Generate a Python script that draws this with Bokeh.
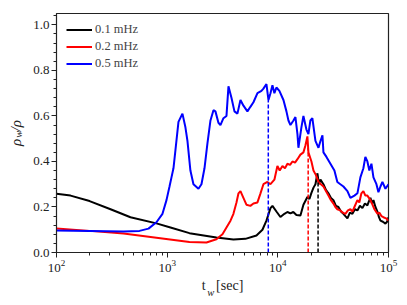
from bokeh.plotting import figure
from bokeh.models import (Range1d, SingleIntervalTicker, FixedTicker, LinearAxis,
                          Legend, LegendItem, PrintfTickFormatter)
from bokeh.embed import file_html
from bokeh.resources import INLINE

# ---- data ----
t_01 = [100, 134, 199, 308, 466, 800, 1071, 1590, 2786, 3970, 5095, 6410, 7260, 7890,
        8580, 8940, 9710, 10550, 11470, 12200, 13000, 13800, 14720, 16000, 17030, 18500,
        19300, 20120, 21000, 21870, 22800, 23500, 24270, 25830, 27200, 28660, 30200, 31800,
        33500, 35270, 37200, 39140, 40800, 42540, 44800, 47200, 49700, 52370, 55200, 58100,
        61200, 64440, 66500, 68660, 70900, 73100, 76200, 79400, 82000, 84600, 89000, 93800,
        97000, 100000]
rho_01 = [0.258, 0.250, 0.226, 0.190, 0.155, 0.128, 0.110, 0.085, 0.066, 0.057, 0.060, 0.075,
          0.100, 0.140, 0.195, 0.205, 0.180, 0.156, 0.170, 0.178, 0.172, 0.178, 0.165, 0.163,
          0.210, 0.244, 0.235, 0.262, 0.285, 0.300, 0.348, 0.300, 0.320, 0.300, 0.275, 0.260,
          0.240, 0.230, 0.205, 0.200, 0.180, 0.170, 0.160, 0.150, 0.175, 0.170, 0.190, 0.185,
          0.205, 0.195, 0.215, 0.207, 0.225, 0.240, 0.215, 0.230, 0.200, 0.180, 0.155, 0.140,
          0.135, 0.127, 0.135, 0.155]

t_02 = [100, 199, 403, 800, 1590, 2265, 2786, 3160, 3435, 3735, 3970, 4230, 4410, 4595,
        4786, 5200, 5650, 6020, 6545, 6970, 7410, 8050, 8580, 9310, 9910, 10400, 11010,
        11600, 12210, 12900, 13550, 14300, 15040, 16000, 17030, 17750, 18500, 18900, 20120,
        20990, 22100, 23290, 24500, 25830, 27200, 28660, 30200, 31800, 33100, 34500, 36730,
        38700, 40760, 43000, 45260, 47200, 49200, 52370, 54500, 56900, 59300, 61800, 64440,
        68660, 71600, 74660, 79400, 82800, 86300, 89950, 95000, 100000]
rho_02 = [0.105, 0.095, 0.083, 0.065, 0.046, 0.044, 0.058, 0.080, 0.110, 0.140, 0.170, 0.220,
          0.260, 0.270, 0.250, 0.210, 0.205, 0.215, 0.220, 0.260, 0.300, 0.310, 0.300, 0.320,
          0.380, 0.360, 0.380, 0.370, 0.390, 0.385, 0.400, 0.395, 0.410, 0.430, 0.440, 0.470,
          0.510, 0.440, 0.400, 0.360, 0.340, 0.310, 0.300, 0.290, 0.270, 0.250, 0.230, 0.215,
          0.200, 0.190, 0.185, 0.175, 0.170, 0.185, 0.190, 0.180, 0.200, 0.230, 0.220, 0.260,
          0.270, 0.250, 0.250, 0.230, 0.210, 0.190, 0.170, 0.175, 0.160, 0.155, 0.150, 0.140]

t_05 = [100, 199, 403, 562, 678, 800, 907, 986, 1050, 1094, 1140, 1188, 1265, 1374, 1462,
        1525, 1622, 1728, 1918, 2041, 2174, 2313, 2462, 2620, 2730, 2905, 3030, 3225, 3435,
        3580, 3810, 4055, 4315, 4595, 4890, 5310, 5650, 6020, 6545, 7110, 7410, 7890, 8225,
        8580, 8940, 9310, 9710, 10330, 11240, 11960, 12470, 13000, 13840, 14420, 15040,
        15350, 16330, 17030, 18130, 18900, 19680, 20510, 21870, 23290, 24270, 25300, 25830,
        27500, 29870, 32450, 34500, 36730, 39140, 42540, 45260, 49200, 52370, 55720, 59300,
        61790, 64440, 67150, 70100, 73100, 77800, 81100, 84600, 88100, 93800, 100000]
rho_05 = [0.097, 0.095, 0.092, 0.095, 0.105, 0.133, 0.170, 0.230, 0.290, 0.330, 0.370, 0.450,
          0.574, 0.610, 0.550, 0.490, 0.360, 0.300, 0.280, 0.300, 0.370, 0.480, 0.580, 0.625,
          0.620, 0.570, 0.560, 0.590, 0.600, 0.730, 0.680, 0.620, 0.610, 0.670, 0.645, 0.620,
          0.640, 0.660, 0.700, 0.710, 0.720, 0.740, 0.670, 0.700, 0.735, 0.700, 0.725, 0.710,
          0.670, 0.620, 0.580, 0.560, 0.580, 0.595, 0.520, 0.460, 0.550, 0.600, 0.540, 0.520,
          0.580, 0.590, 0.490, 0.460, 0.490, 0.515, 0.440, 0.420, 0.390, 0.360, 0.310, 0.300,
          0.290, 0.270, 0.240, 0.250, 0.260, 0.330, 0.370, 0.420, 0.400, 0.360, 0.390, 0.330,
          0.300, 0.265, 0.290, 0.310, 0.280, 0.300]

labels = ["0.1 mHz", "0.2 mHz", "0.5 mHz"]
colors = ["#000000", "#ff0000", "#0000ff"]
t_mark = [23100, 18800, 8200]      # dashed markers
rho_mark = [0.31, 0.46, 0.67]

SERIF = "Liberation Serif"
INK = "#222222"
NB = "\u00a0"
EM = "\u2003"

p = figure(frame_width=332, frame_height=239, x_axis_type="log",
           x_range=Range1d(100, 1e5), y_range=Range1d(0, 1.05),
           output_backend="svg", toolbar_location=None,
           min_border_left=56, min_border_right=12, min_border_top=13, min_border_bottom=46)
p.background_fill_color = "white"
p.border_fill_color = "white"
p.outline_line_color = INK
p.outline_line_width = 1.2
p.xgrid.visible = False
p.ygrid.visible = False

p.yaxis.ticker = SingleIntervalTicker(interval=0.2, num_minor_ticks=5)
p.yaxis.formatter = PrintfTickFormatter(format="%.1f")
for ax in (p.xaxis, p.yaxis):
    ax.major_label_text_font = SERIF
    ax.major_label_text_font_size = "13px"
    ax.major_label_text_color = INK
    ax.axis_line_color = INK
    ax.major_tick_line_color = INK
    ax.minor_tick_line_color = INK
    ax.major_tick_out = 5
    ax.major_tick_in = 0
    ax.minor_tick_out = 3
    ax.minor_tick_in = 0
    ax.major_label_standoff = 2
    ax.axis_label_text_font = SERIF
    ax.axis_label_text_font_style = "italic"
    ax.axis_label_text_color = INK

# main axis labels with a gap where the subscript goes
p.xaxis.axis_label = "t" + NB * 3 + "[sec]"
p.xaxis.axis_label_text_font_size = "14px"
p.xaxis.axis_label_text_font_style = "normal"
p.xaxis.axis_label_standoff = 3
p.yaxis.axis_label = "ρ" + NB * 2 + "/ρ"
p.yaxis.axis_label_text_font_size = "15px"
p.yaxis.axis_label_standoff = 6

# subscripts "w" carried by tick-less helper axes
def sub_axis(label, standoff):
    a = LinearAxis(ticker=FixedTicker(ticks=[]), axis_line_color=None,
                   major_tick_out=0, major_tick_in=0, minor_tick_out=0, minor_tick_in=0,
                   major_label_standoff=0, axis_label=label, axis_label_standoff=standoff,
                   axis_label_text_font=SERIF, axis_label_text_font_style="italic",
                   axis_label_text_font_size="10.5px", axis_label_text_color=INK)
    return a

p.add_layout(sub_axis("w" + EM * 2 + NB, -9), "below")
p.add_layout(sub_axis("w" + NB, -18), "left")

series = [(t_01, rho_01), (t_02, rho_02), (t_05, rho_05)]
items = []
for (tt, rr), c, lab in zip(series, colors, labels):
    r = p.line(tt, rr, line_color=c, line_width=2)
    items.append(LegendItem(label=lab, renderers=[r]))

for tm, rm, c in zip(t_mark, rho_mark, colors):
    p.line([tm, tm], [0, rm], line_color=c, line_width=1.5, line_dash="4 2")

legend = Legend(items=items, location=(10, 180), border_line_color=None,
                background_fill_alpha=0, label_text_font=SERIF,
                label_text_font_size="12.5px", glyph_width=26, glyph_height=17,
                label_height=17, label_standoff=3, spacing=0, padding=0, margin=0)
p.add_layout(legend)

open("out.html", "w").write(file_html(p, INLINE))
